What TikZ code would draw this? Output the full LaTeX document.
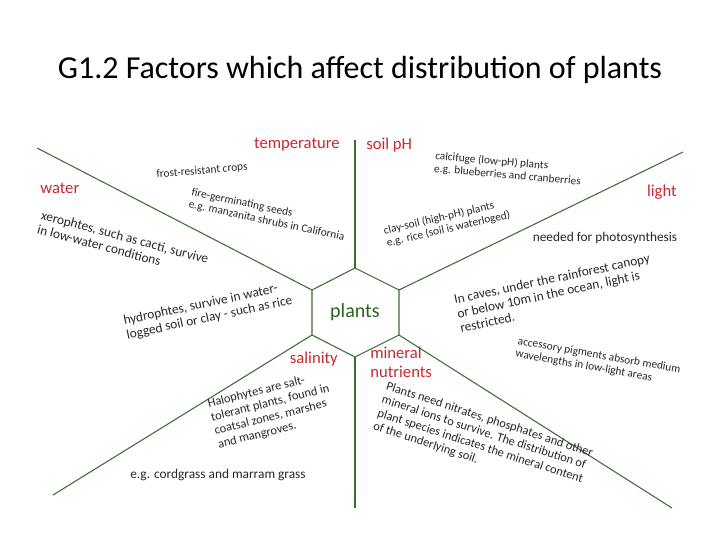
\documentclass[tikz,border=0pt]{standalone}
\usepackage{fontspec}
\setmainfont{Carlito}
\definecolor{lg}{RGB}{60,110,50}
\definecolor{tg}{RGB}{40,100,30}
\definecolor{rd}{RGB}{200,40,50}
\begin{document}
\begin{tikzpicture}[x=0.75pt,y=-0.75pt,
  ln/.style={draw=lg,line width=0.8pt},
  fac/.style={text=rd,font=\fontsize{12.5}{14}\selectfont,inner sep=0pt},
  sm/.style={font=\fontsize{8.5}{9.5}\selectfont,align=left,inner sep=0pt,text=black!85},
  md/.style={font=\fontsize{10}{11}\selectfont,align=left,inner sep=0pt,text=black!85},
  ms/.style={font=\fontsize{9.3}{10.5}\selectfont,align=left,inner sep=0pt,text=black!85}]
\useasboundingbox (0,0) rectangle (720,540);
\node (title) at (360,70) {\fontsize{24}{28}\selectfont G1.2 Factors which affect distribution of plants};
% hexagon
\coordinate (ht) at (355,268); \coordinate (hur) at (399,290); \coordinate (hlr) at (399,335);
\coordinate (hb) at (355,357); \coordinate (hll) at (312,335); \coordinate (hul) at (312,290);
\draw[ln] (ht)--(hur)--(hlr)--(hb)--(hll)--(hul)--cycle;
\node (plants) at (355,312) {\textcolor{tg}{\fontsize{15}{17}\selectfont plants}};
\coordinate (et) at (355,140); \coordinate (eul) at (37,148); \coordinate (eur) at (683,152);
\coordinate (elr) at (672,508); \coordinate (ell) at (53,495); \coordinate (eb) at (355,508);
\draw[ln] (ht)--(et); \draw[ln] (hul)--(eul); \draw[ln] (hur)--(eur);
\draw[ln] (hlr)--(elr); \draw[ln] (hll)--(ell); \draw[ln] (hb)--(eb);
% factor labels
\node[fac,anchor=east] (temp) at (340,145) {temperature};
\node[fac,anchor=west] (ph) at (366,145) {soil pH};
\node[fac,anchor=west] (water) at (40,188) {water};
\node[fac,anchor=east] (light) at (677,192) {light};
\node[fac,anchor=east] (sal) at (338,359) {salinity};
\node[fac,anchor=north west,align=left] (min) at (370,347) {mineral\\nutrients};
% descriptions
\node[sm,rotate=5] (frost) at (202,171) {frost-resistant crops};
\node[sm,rotate=-12] (fire) at (268,215) {fire-germinating seeds\\e.g. manzanita shrubs in California};
\node[md,rotate=-15] (xero) at (123,244) {xerophtes, such as cacti, survive\\in low-water conditions};
\node[md,rotate=12] (hydro) at (208,311) {hydrophtes, survive in water-\\logged soil or clay - such as rice};
\node[sm,rotate=-5] (calc) at (508,169) {calcifuge (low-pH) plants\\e.g. blueberries and cranberries};
\node[sm,rotate=13] (clay) at (447,223) {clay-soil (high-pH) plants\\e.g. rice (soil is waterloged)};
\node[md] (photo) at (605,238) {needed for photosynthesis};
\node[md,rotate=12] (caves) at (555,293) {In caves, under the rainforest canopy\\or below 10m in the ocean, light is\\restricted.};
\node[sm,rotate=-10] (acc) at (598,362) {accessory pigments absorb medium\\wavelengths in low-light areas};
\node[ms,rotate=14] (halo) at (272,410) {Halophytes are salt-\\tolerant plants, found in\\coatsal zones, marshes\\and mangroves.};
\node[ms,rotate=-18] (need) at (483,440) {Plants need nitrates, phosphates and other\\mineral ions to survive. The distribution of\\plant species indicates the mineral content\\of the underlying soil.};
\node[md] (cord) at (218,475) {e.g. cordgrass and marram grass};
\end{tikzpicture}
\end{document}
